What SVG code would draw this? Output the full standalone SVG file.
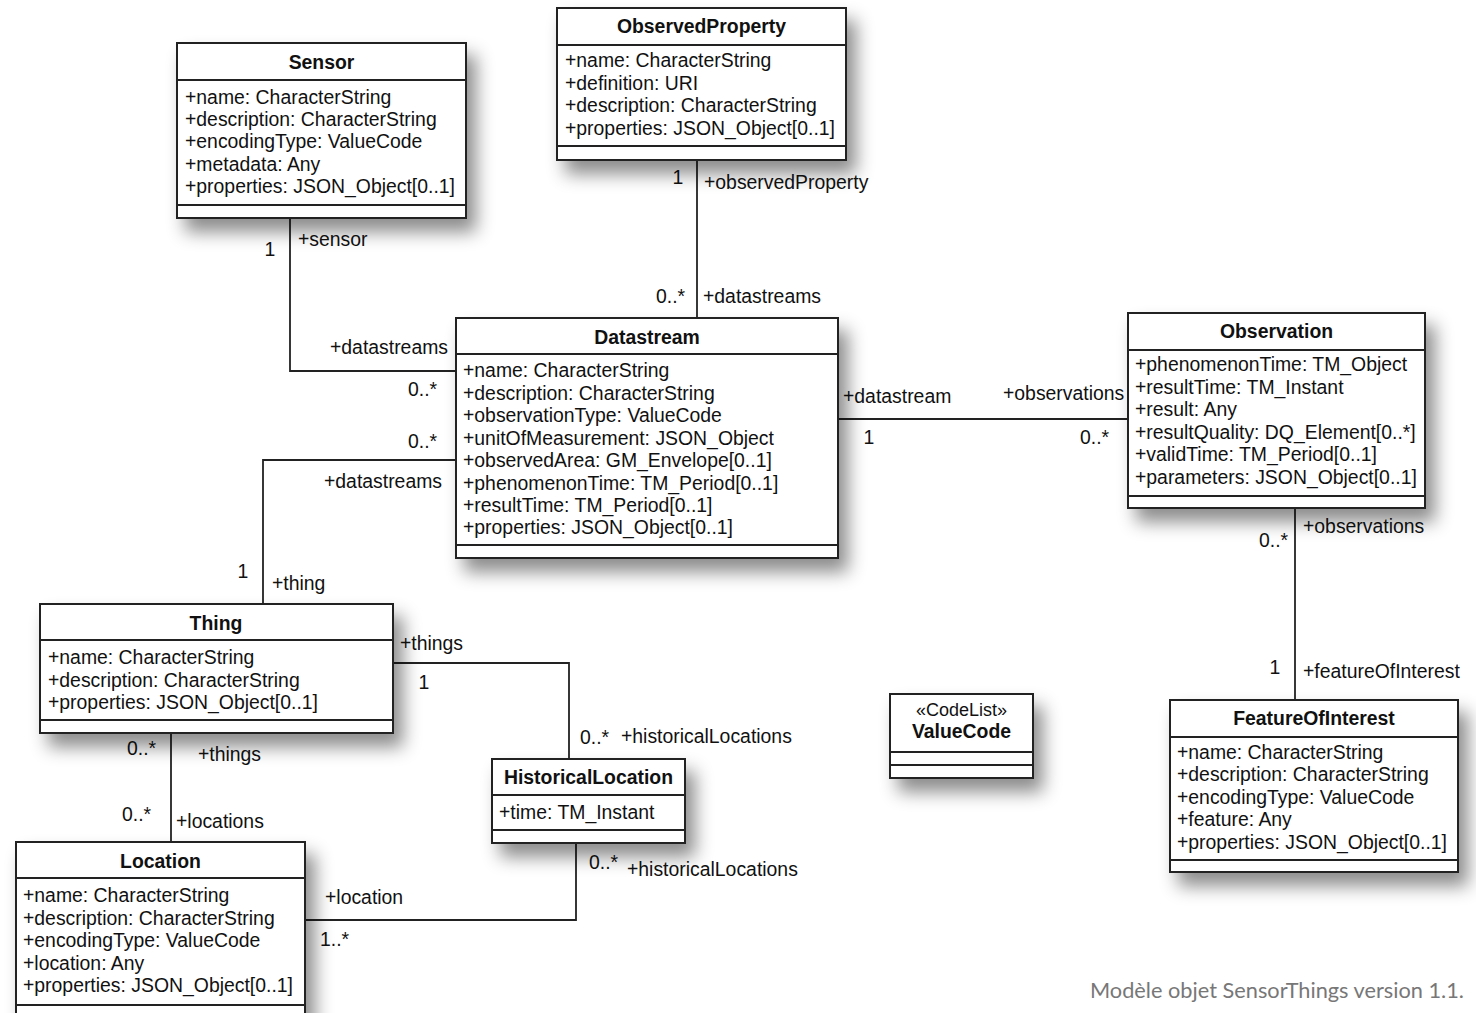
<svg xmlns="http://www.w3.org/2000/svg" width="1476" height="1013" viewBox="0 0 1476 1013">
<defs>
<filter id="sh" x="-20%" y="-20%" width="160%" height="170%">
<feDropShadow dx="9" dy="13" stdDeviation="9" flood-color="#000" flood-opacity="0.45"/>
</filter>
<style>
.box{fill:#fff;stroke:#222;stroke-width:2}
.div{stroke:#222;stroke-width:2}
text{font-family:"Liberation Sans",Arial,sans-serif;font-size:19.4px;fill:#111}
.t{font-weight:bold;text-anchor:middle}
.m{text-anchor:middle}
.c{fill:none;stroke:#222;stroke-width:1.8}
.foot{font-family:Lato,"Open Sans",sans-serif;font-size:22px;fill:#777}
</style>
</defs>
<rect width="1476" height="1013" fill="#fff"/>

<g id="connectors">
<polyline class="c" points="290,218 290,371 456,371"/>
<line class="c" x1="697" y1="160" x2="697" y2="318"/>
<polyline class="c" points="263,604 263,460 456,460"/>
<line class="c" x1="838" y1="419" x2="1128" y2="419"/>
<line class="c" x1="1295" y1="508" x2="1295" y2="700"/>
<polyline class="c" points="393,663 569,663 569,759"/>
<line class="c" x1="171" y1="733" x2="171" y2="842"/>
<polyline class="c" points="305,920 576,920 576,843"/>
<text class="m" x="270" y="256">1</text>
<text x="298" y="246">+sensor</text>
<text x="330" y="354">+datastreams</text>
<text x="408" y="396">0..*</text>
<text class="m" x="678" y="184">1</text>
<text x="704" y="189">+observedProperty</text>
<text x="656" y="303">0..*</text>
<text x="703" y="303">+datastreams</text>
<text x="408" y="448">0..*</text>
<text x="324" y="488">+datastreams</text>
<text class="m" x="243" y="578">1</text>
<text x="272" y="590">+thing</text>
<text x="843" y="403">+datastream</text>
<text class="m" x="869" y="444">1</text>
<text x="1003" y="400">+observations</text>
<text x="1080" y="444">0..*</text>
<text x="1259" y="547">0..*</text>
<text x="1303" y="533">+observations</text>
<text class="m" x="1275" y="674">1</text>
<text x="1303" y="678">+featureOfInterest</text>
<text x="400" y="650">+things</text>
<text class="m" x="424" y="689">1</text>
<text x="580" y="744">0..*</text>
<text x="621" y="743">+historicalLocations</text>
<text x="127" y="755">0..*</text>
<text x="198" y="761">+things</text>
<text x="122" y="821">0..*</text>
<text x="176" y="828">+locations</text>
<text x="325" y="904">+location</text>
<text x="320" y="946">1..*</text>
<text x="589" y="869">0..*</text>
<text x="627" y="876">+historicalLocations</text>
</g>

<g id="sensor">
<rect class="box" x="177" y="43" width="289" height="175" filter="url(#sh)"/>
<line class="div" x1="177" y1="80" x2="466" y2="80"/>
<line class="div" x1="177" y1="205" x2="466" y2="205"/>
<text class="t" x="321.5" y="69">Sensor</text>
<text x="185" y="104">+name: CharacterString</text>
<text x="185" y="126">+description: CharacterString</text>
<text x="185" y="148">+encodingType: ValueCode</text>
<text x="185" y="171">+metadata: Any</text>
<text x="185" y="193">+properties: JSON_Object[0..1]</text>
</g>

<g id="observedproperty">
<rect class="box" x="557" y="8" width="289" height="152" filter="url(#sh)"/>
<line class="div" x1="557" y1="45" x2="846" y2="45"/>
<line class="div" x1="557" y1="146" x2="846" y2="146"/>
<text class="t" x="701.5" y="33">ObservedProperty</text>
<text x="565" y="67">+name: CharacterString</text>
<text x="565" y="90">+definition: URI</text>
<text x="565" y="112">+description: CharacterString</text>
<text x="565" y="135">+properties: JSON_Object[0..1]</text>
</g>

<g id="datastream">
<rect class="box" x="456" y="318" width="382" height="240" filter="url(#sh)"/>
<line class="div" x1="456" y1="354" x2="838" y2="354"/>
<line class="div" x1="456" y1="545" x2="838" y2="545"/>
<text class="t" x="647" y="344">Datastream</text>
<text x="463" y="377">+name: CharacterString</text>
<text x="463" y="400">+description: CharacterString</text>
<text x="463" y="422">+observationType: ValueCode</text>
<text x="463" y="445">+unitOfMeasurement: JSON_Object</text>
<text x="463" y="467">+observedArea: GM_Envelope[0..1]</text>
<text x="463" y="490">+phenomenonTime: TM_Period[0..1]</text>
<text x="463" y="512">+resultTime: TM_Period[0..1]</text>
<text x="463" y="534">+properties: JSON_Object[0..1]</text>
</g>

<g id="observation">
<rect class="box" x="1128" y="313" width="297" height="195" filter="url(#sh)"/>
<line class="div" x1="1128" y1="350" x2="1425" y2="350"/>
<line class="div" x1="1128" y1="496" x2="1425" y2="496"/>
<text class="t" x="1276.5" y="338">Observation</text>
<text x="1135" y="371">+phenomenonTime: TM_Object</text>
<text x="1135" y="394">+resultTime: TM_Instant</text>
<text x="1135" y="416">+result: Any</text>
<text x="1135" y="439">+resultQuality: DQ_Element[0..*]</text>
<text x="1135" y="461">+validTime: TM_Period[0..1]</text>
<text x="1135" y="484">+parameters: JSON_Object[0..1]</text>
</g>

<g id="thing">
<rect class="box" x="40" y="604" width="353" height="129" filter="url(#sh)"/>
<line class="div" x1="40" y1="640" x2="393" y2="640"/>
<line class="div" x1="40" y1="720" x2="393" y2="720"/>
<text class="t" x="216" y="630">Thing</text>
<text x="48" y="664">+name: CharacterString</text>
<text x="48" y="687">+description: CharacterString</text>
<text x="48" y="709">+properties: JSON_Object[0..1]</text>
</g>

<g id="location">
<rect class="box" x="16" y="842" width="289" height="185" filter="url(#sh)"/>
<line class="div" x1="16" y1="878" x2="305" y2="878"/>
<line class="div" x1="16" y1="1005" x2="305" y2="1005"/>
<text class="t" x="160.5" y="868">Location</text>
<text x="23" y="902">+name: CharacterString</text>
<text x="23" y="925">+description: CharacterString</text>
<text x="23" y="947">+encodingType: ValueCode</text>
<text x="23" y="970">+location: Any</text>
<text x="23" y="992">+properties: JSON_Object[0..1]</text>
</g>

<g id="historicallocation">
<rect class="box" x="492" y="759" width="193" height="84" filter="url(#sh)"/>
<line class="div" x1="492" y1="795" x2="685" y2="795"/>
<line class="div" x1="492" y1="830" x2="685" y2="830"/>
<text class="t" x="588.5" y="784">HistoricalLocation</text>
<text x="499" y="819">+time: TM_Instant</text>
</g>

<g id="valuecode">
<rect class="box" x="890" y="694" width="143" height="84" filter="url(#sh)"/>
<line class="div" x1="890" y1="752" x2="1033" y2="752"/>
<line class="div" x1="890" y1="765" x2="1033" y2="765"/>
<text class="m" x="961.5" y="716" style="font-size:18px">«CodeList»</text>
<text class="t" x="961.5" y="738">ValueCode</text>
</g>

<g id="featureofinterest">
<rect class="box" x="1170" y="700" width="288" height="172" filter="url(#sh)"/>
<line class="div" x1="1170" y1="737" x2="1458" y2="737"/>
<line class="div" x1="1170" y1="860" x2="1458" y2="860"/>
<text class="t" x="1314" y="725">FeatureOfInterest</text>
<text x="1177" y="759">+name: CharacterString</text>
<text x="1177" y="781">+description: CharacterString</text>
<text x="1177" y="804">+encodingType: ValueCode</text>
<text x="1177" y="826">+feature: Any</text>
<text x="1177" y="849">+properties: JSON_Object[0..1]</text>
</g>

<text class="foot" x="1090" y="998" textLength="374" lengthAdjust="spacingAndGlyphs">Modèle objet SensorThings version 1.1.</text>
</svg>
